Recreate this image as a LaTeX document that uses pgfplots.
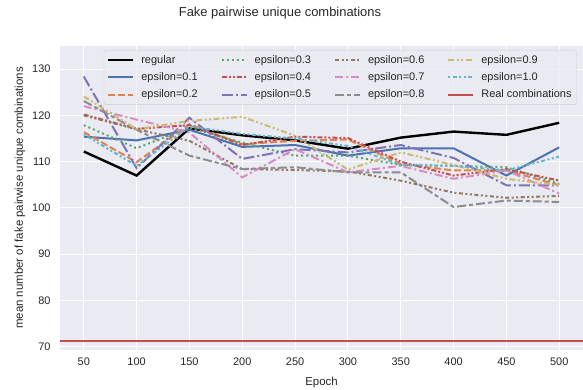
\documentclass[border=0pt]{standalone}
\usepackage{fontspec}
\setmainfont{Liberation Sans}
\usepackage{pgfplots}
\usepackage{pgfplotstable}
\pgfplotsset{compat=1.18}

% seaborn "deep" palette and darkgrid colours
\definecolor{sbbg}{HTML}{EAEAF2}
\definecolor{sbtext}{HTML}{262626}
\definecolor{sbblue}{HTML}{4C72B0}
\definecolor{sborange}{HTML}{DD8452}
\definecolor{sbgreen}{HTML}{55A868}
\definecolor{sbred}{HTML}{C44E52}
\definecolor{sbpurple}{HTML}{8172B3}
\definecolor{sbbrown}{HTML}{937860}
\definecolor{sbpink}{HTML}{DA8BC3}
\definecolor{sbgray}{HTML}{8C8C8C}
\definecolor{sbolive}{HTML}{CCB974}
\definecolor{sbcyan}{HTML}{64B5CD}
\definecolor{legedge}{HTML}{CCCCCC}

% mean number of fake pairwise unique combinations per epoch
\pgfplotstableread{
epoch reg   e01   e02   e03   e04   e05   e06   e07   e08   e09   e10
50    112.2 115.4 116.4 117.9 120.2 128.4 120.0 122.0 123.1 124.1 115.9
100   107.0 114.6 109.9 112.9 117.1 108.6 117.0 119.1 116.9 117.0 109.1
150   117.2 116.9 118.1 117.4 117.9 119.5 114.5 116.3 111.3 118.8 117.6
200   115.7 113.2 113.8 114.1 113.6 110.6 108.4 106.6 108.4 119.7 116.0
250   114.6 113.6 114.5 111.3 115.4 112.7 108.2 112.7 108.8 115.6 115.0
300   112.8 111.3 114.8 111.3 115.1 112.0 107.9 107.7 107.7 108.3 113.4
350   115.2 112.9 109.5 109.3 110.0 113.6 105.9 109.1 107.7 112.0 109.3
400   116.5 112.9 108.1 109.1 107.0 110.8 103.3 106.3 100.2 109.3 109.1
450   115.8 107.0 108.1 108.8 108.4 104.9 102.2 108.1 101.6 106.3 108.1
500   118.4 113.1 104.9 105.2 105.9 104.9 102.6 103.1 101.3 104.9 111.1
}\combos

\pgfplotsset{
  legend image code/.code={\draw[#1] (0bp,0bp) -- (25bp,0bp);},
  series/.style={line width=2bp, line cap=butt},
  sReg/.style={series, black, line width=2.4bp},
  s01/.style={series, sbblue},
  s02/.style={series, sborange, dash pattern=on 7bp off 3bp},
  s03/.style={series, sbgreen, dash pattern=on 2bp off 3bp},
  s04/.style={series, sbred, dash pattern=on 5bp off 2bp on 2bp off 2bp on 2bp off 2bp},
  s05/.style={series, sbpurple, dash pattern=on 11bp off 3bp on 2bp off 3bp},
  s06/.style={series, sbbrown, dash pattern=on 4bp off 2.5bp on 2bp off 2.5bp on 2bp off 2.5bp},
  s07/.style={series, sbpink, dash pattern=on 8bp off 3bp on 2bp off 3bp},
  s08/.style={series, sbgray, dash pattern=on 9bp off 3bp on 4bp off 3bp},
  s09/.style={series, sbolive, dash pattern=on 6bp off 2.5bp on 2bp off 2.5bp on 2bp off 2.5bp},
  s10/.style={series, sbcyan, dash pattern=on 2bp off 2.5bp on 4bp off 2.5bp on 2bp off 2.5bp},
  sReal/.style={series, sbred},
}

\begin{document}
\begin{tikzpicture}
\begin{axis}[
  at={(0,0)}, anchor=south west,
  scale only axis, width=523bp, height=304bp,
  xmin=27.5, xmax=522.5, ymin=69.3, ymax=135,
  xtick={50,100,...,500}, ytick={70,80,...,130},
  axis background/.style={fill=sbbg},
  axis line style={draw=none},
  major tick length=0pt,
  grid=major,
  major grid style={white, line width=1bp},
  /pgf/number format/assume math mode=true,
  tick label style={font=\fontsize{11}{13}\selectfont, text=sbtext},
  xticklabel style={yshift=-4bp},
  yticklabel style={xshift=-6bp},
  every axis x label/.style={at={(axis description cs:0.5,-0.106)}, anchor=center},
  every axis y label/.style={at={(axis description cs:-0.0765,0.5)}, rotate=90, anchor=center},
  label style={font=\fontsize{11.5}{13}\selectfont, text=sbtext},
  xlabel={Epoch},
  ylabel={mean number of fake pairwise unique combinations},
  legend columns=4,
  legend cell align=left,
  legend style={
    at={(0.988,0.987)}, anchor=north east,
    font=\fontsize{11}{13}\selectfont, text=sbtext,
    fill=sbbg, fill opacity=0.8, draw opacity=1, text opacity=1,
    draw=legedge, rounded corners=2bp, inner sep=3bp,
    /tikz/every even column/.append style={column sep=21bp},
    /tikz/every odd column/.append style={column sep=5bp},
    row sep=4bp,
  },
]
% curves, in drawing order
\addplot[sReg, forget plot] table[x=epoch, y=reg] {\combos};
\addplot[s01, forget plot] table[x=epoch, y=e01] {\combos};
\addplot[s02, forget plot] table[x=epoch, y=e02] {\combos};
\addplot[s03, forget plot] table[x=epoch, y=e03] {\combos};
\addplot[s04, forget plot] table[x=epoch, y=e04] {\combos};
\addplot[s05, forget plot] table[x=epoch, y=e05] {\combos};
\addplot[s06, forget plot] table[x=epoch, y=e06] {\combos};
\addplot[s07, forget plot] table[x=epoch, y=e07] {\combos};
\addplot[s08, forget plot] table[x=epoch, y=e08] {\combos};
\addplot[s09, forget plot] table[x=epoch, y=e09] {\combos};
\addplot[s10, forget plot] table[x=epoch, y=e10] {\combos};
\addplot[sReal, forget plot] coordinates {(27.5,71.2) (522.5,71.2)};
% legend, filled row by row so that columns read top to bottom
\addlegendimage{sReg}  \addlegendentry{regular}
\addlegendimage{s03}   \addlegendentry{epsilon=0.3}
\addlegendimage{s06}   \addlegendentry{epsilon=0.6}
\addlegendimage{s09}   \addlegendentry{epsilon=0.9}
\addlegendimage{s01}   \addlegendentry{epsilon=0.1}
\addlegendimage{s04}   \addlegendentry{epsilon=0.4}
\addlegendimage{s07}   \addlegendentry{epsilon=0.7}
\addlegendimage{s10}   \addlegendentry{epsilon=1.0}
\addlegendimage{s02}   \addlegendentry{epsilon=0.2}
\addlegendimage{s05}   \addlegendentry{epsilon=0.5}
\addlegendimage{s08}   \addlegendentry{epsilon=0.8}
\addlegendimage{sReal} \addlegendentry{Real combinations}
\end{axis}
% figure title, centred over the figure
\node[font=\fontsize{13}{15}\selectfont, text=sbtext, anchor=center]
  at (220bp,336.5bp) {Fake pairwise unique combinations};
\pgfresetboundingbox
\useasboundingbox (-60bp,-40bp) rectangle (523bp,350bp);
\end{tikzpicture}
\end{document}
